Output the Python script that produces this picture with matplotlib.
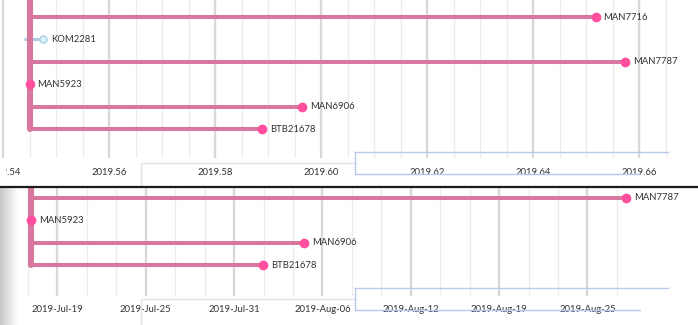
import matplotlib.pyplot as plt
import numpy as np
from matplotlib.lines import Line2D
from matplotlib.patches import Rectangle

plt.rcParams['font.family'] = ['Lato', 'DejaVu Sans']

# tree data (decimal year, row index)
tip_names = ["MAN7716", "KOM2281", "MAN7787", "MAN5923", "MAN6906", "BTB21678"]
tip_dates = [2019.6518, 2019.5475, 2019.6573, 2019.5450, 2019.5965, 2019.5888]
tip_rows = [0, 1, 2, 3, 4, 5]
parent_dates = [2019.545, 2019.5440, 2019.545, 2019.545, 2019.545, 2019.545]
tip_colors = ["#ff4f9e", "#dcf1ff", "#ff4f9e", "#ff4f9e", "#ff4f9e", "#ff4f9e"]
branch_colors = ["#d9789f", "#abcde6", "#d9789f", "#d9789f", "#d9789f", "#d9789f"]
trunk_date = 2019.545
trunk_rows = (-3, 5)

# axis ticks
num_ticks = [2019.54, 2019.56, 2019.58, 2019.60, 2019.62, 2019.64, 2019.66]
num_minor = np.arange(2019.545, 2019.6651, 0.005)
date_ticks = [2019.55 + k / 60 for k in range(7)]
date_labels = ["2019-Jul-19", "2019-Jul-25", "2019-Jul-31", "2019-Aug-06",
               "2019-Aug-12", "2019-Aug-19", "2019-Aug-25"]
date_minor = [2019.55 + (k - 1) / 180 for k in range(21)]

W, H = 698, 325
fig = plt.figure(figsize=(W / 100, H / 100), dpi=100)


def px_axes(x0, y0, x1, y1, **kw):
    return fig.add_axes([x0 / W, 1 - y1 / H, (x1 - x0) / W, (y1 - y0) / H], **kw)


def draw_tree(ax, rows_visible):
    ax.plot([trunk_date, trunk_date], trunk_rows, color="#d9789f", lw=4.4,
            solid_capstyle="round", zorder=3)
    for name, d, r, p, tc, bc in zip(tip_names, tip_dates, tip_rows,
                                     parent_dates, tip_colors, branch_colors):
        if r not in rows_visible:
            continue
        lw = 2.9 if name != "KOM2281" else 2.2
        ax.plot([p, d], [r, r], color=bc, lw=lw, solid_capstyle="butt", zorder=2)
        if name == "KOM2281":
            ax.plot(d, r, "o", ms=5.2, mfc=tc, mec="#abcde6", mew=1.0, zorder=4)
        else:
            ax.plot(d, r, "o", ms=6, mfc=tc, mec=tc, zorder=4)
        ax.annotate(name, (d, r), xytext=(5.8, 0), textcoords="offset points",
                    va="center", ha="left", fontsize=6.8, color="#333333", zorder=5)


def style(ax):
    for s in ax.spines.values():
        s.set_visible(False)
    ax.tick_params(axis="x", which="both", length=0, labelsize=6.8,
                   labelcolor="#333333")
    ax.tick_params(axis="y", left=False, labelleft=False)
    ax.set_facecolor("none")


scale = 5300.0

# top panel (numeric dates)
ax1 = px_axes(0, 0, W, 158)
ax1.set_xlim(trunk_date - 29.5 / scale, trunk_date + (W - 29.5) / scale)
ax1.set_ylim(-17 / 22.4 + (158) / 22.4, -17 / 22.4)
for v in num_minor:
    ax1.axvline(v, color="#ececec", lw=1.0, zorder=0)
for v in num_ticks:
    ax1.axvline(v, color="#d8d8d8", lw=1.6, zorder=0)
draw_tree(ax1, [0, 1, 2, 3, 4, 5])
ax1.set_xticks(num_ticks)
ax1.set_xticklabels(["%.2f" % v for v in num_ticks])
style(ax1)
ax1.tick_params(axis="x", pad=7.2)

# the first label sits under the edge of the panel in the screenshot
clip = Rectangle((6 / W, 0), 1, 1, transform=fig.transFigure)
ax1.get_xticklabels()[0].set_clip_path(clip)

# bottom panel (calendar dates)
ax2 = px_axes(0, 188, W, 296)
ax2.set_xlim(trunk_date - 31 / scale, trunk_date + (W - 31) / scale)
ax2.set_ylim(2 + (296 - 198) / 22.4, 2 - 10 / 22.4)
for v in date_minor:
    ax2.axvline(v, color="#ececec", lw=1.0, zorder=0)
for v in date_ticks:
    ax2.axvline(v, color="#d8d8d8", lw=1.6, zorder=0)
draw_tree(ax2, [2, 3, 4, 5])
ax2.set_xticks(date_ticks)
ax2.set_xticklabels(date_labels)
style(ax2)
ax2.tick_params(axis="x", pad=6.6)

# left shadow on lower screenshot
sh = px_axes(0, 188, 18, H)
grad = np.linspace(0.78, 1.0, 64).reshape(1, -1)
sh.imshow(np.dstack([grad, grad, grad]), aspect="auto", extent=(0, 1, 0, 1))
sh.set_axis_off()


def fig_line(xs, ys, color, lw=1.0):
    fig.add_artist(Line2D([x / W for x in xs], [1 - y / H for y in ys],
                          color=color, lw=lw, transform=fig.transFigure))


# overlay boxes from the screenshots
for off in (0, 136):
    fig_line([141, 141, 355], [185 + off if off == 0 else H, 163 + off, 163 + off], "#dde3ea")
    fig_line([355, 355], [152 + off, 174 + off], "#b9c9ee")
    fig_line([355, 668], [152 + off, 152 + off], "#b9c9ee")
    fig_line([355, 640], [174 + off, 174 + off], "#b9c9ee")

# separator between the two screenshots
fig_line([0, W], [187, 187], "#1a1a1a", lw=1.6)

fig.savefig("out.png", dpi=100)
